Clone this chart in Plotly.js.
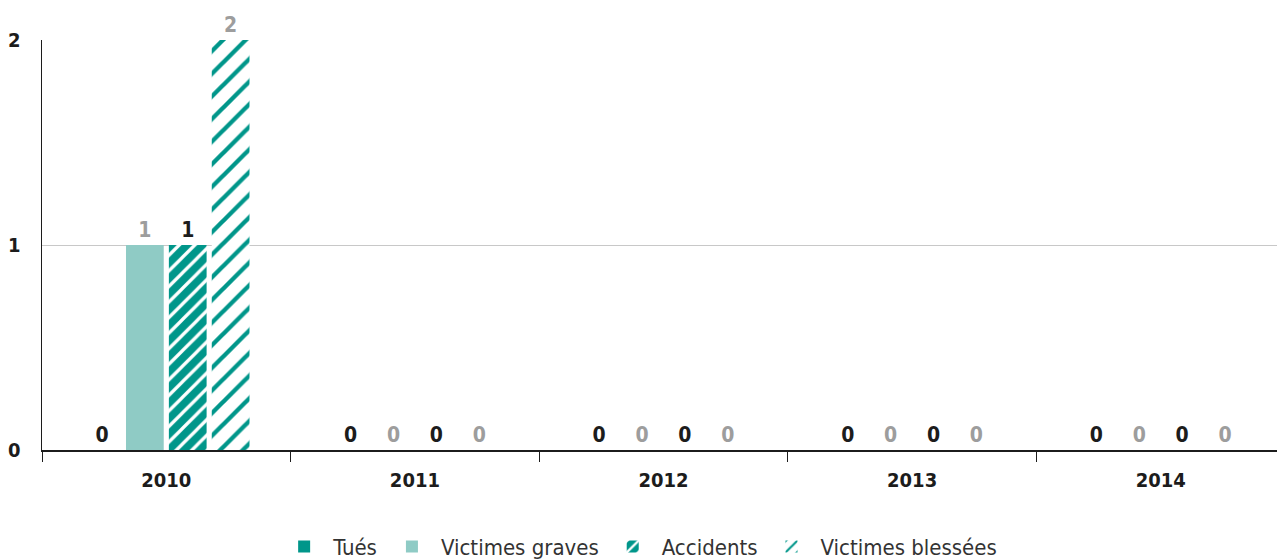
<!DOCTYPE html>
<html>
<head>
<meta charset="utf-8">
<script src="https://cdn.plot.ly/plotly-3.0.1.min.js"></script>
<style>
html,body{margin:0;padding:0;overflow:hidden;background:#fff;}
#chart{width:1285px;height:559px;}
</style>
</head>
<body>
<div id="chart"></div>
<script>
const years = ['2010', '2011', '2012', '2013', '2014'];
const seriesNames = ['Tués', 'Victimes graves', 'Accidents', 'Victimes blessées'];
const tues = [0, 0, 0, 0, 0];
const victimesGraves = [1, 0, 0, 0, 0];
const accidents = [1, 0, 0, 0, 0];
const victimesBlessees = [2, 0, 0, 0, 0];

const TEAL = '#00968a';
const LIGHT = '#8fcbc5';
const DARK = '#1c1c1c';
const GREY = '#9d9d9d';
const labelFont = {family: 'DejaVu Sans Condensed, Liberation Sans Narrow, sans-serif', size: 21, weight: 'bold'};

function bar(name, y, marker, textColor) {
  return {
    type: 'bar', name: name, x: years, y: y, marker: marker,
    text: y.map(String), textposition: 'outside', cliponaxis: false,
    textfont: Object.assign({}, labelFont, {color: textColor}),
    hoverinfo: 'x+y+name'
  };
}

const data = [
  bar(seriesNames[0], tues, {color: TEAL, line: {width: 0}}, DARK),
  bar(seriesNames[1], victimesGraves, {color: LIGHT, line: {width: 0}}, GREY),
  bar(seriesNames[2], accidents, {color: TEAL, line: {width: 0},
      pattern: {shape: '/', bgcolor: TEAL, fgcolor: '#ffffff', size: 11, solidity: 0.3}}, DARK),
  bar(seriesNames[3], victimesBlessees, {color: '#ffffff', line: {width: 0},
      pattern: {shape: '/', bgcolor: '#ffffff', fgcolor: TEAL, size: 16, solidity: 0.27}}, GREY)
];

const layout = {
  width: 1285, height: 559,
  margin: {l: 42, r: 0, t: 40, b: 109},
  paper_bgcolor: '#ffffff', plot_bgcolor: '#ffffff',
  barmode: 'group', bargap: 0.31, bargroupgap: 0.12,
  showlegend: true,
  legend: {orientation: 'h', x: 0.48, xanchor: 'center', yref: 'container', y: 0.022, yanchor: 'middle',
    font: {family: 'DejaVu Sans Condensed, Liberation Sans Narrow, sans-serif', size: 22, color: '#333333'},
    itemwidth: 48, traceorder: 'normal'},
  xaxis: {type: 'category', showline: true, linecolor: '#1c1c1c', linewidth: 1.5,
    ticks: 'outside', tickson: 'boundaries', ticklen: 10, tickcolor: '#1c1c1c', tickwidth: 1,
    tickfont: Object.assign({}, labelFont, {size: 20, color: DARK}), ticklabelstandoff: 11,
    showgrid: false, zeroline: false, fixedrange: true, automargin: false},
  yaxis: {range: [0, 2], tickvals: [0, 1, 2], showline: true, linecolor: '#1c1c1c', linewidth: 1.5,
    showgrid: true, gridcolor: '#c8c8c8', gridwidth: 1, zeroline: false,
    ticks: '', ticklabelstandoff: 16, automargin: false,
    tickfont: Object.assign({}, labelFont, {size: 20, color: DARK}), fixedrange: true}
};

Plotly.newPlot('chart', data, layout, {displayModeBar: false, staticPlot: true});
</script>
</body>
</html>
